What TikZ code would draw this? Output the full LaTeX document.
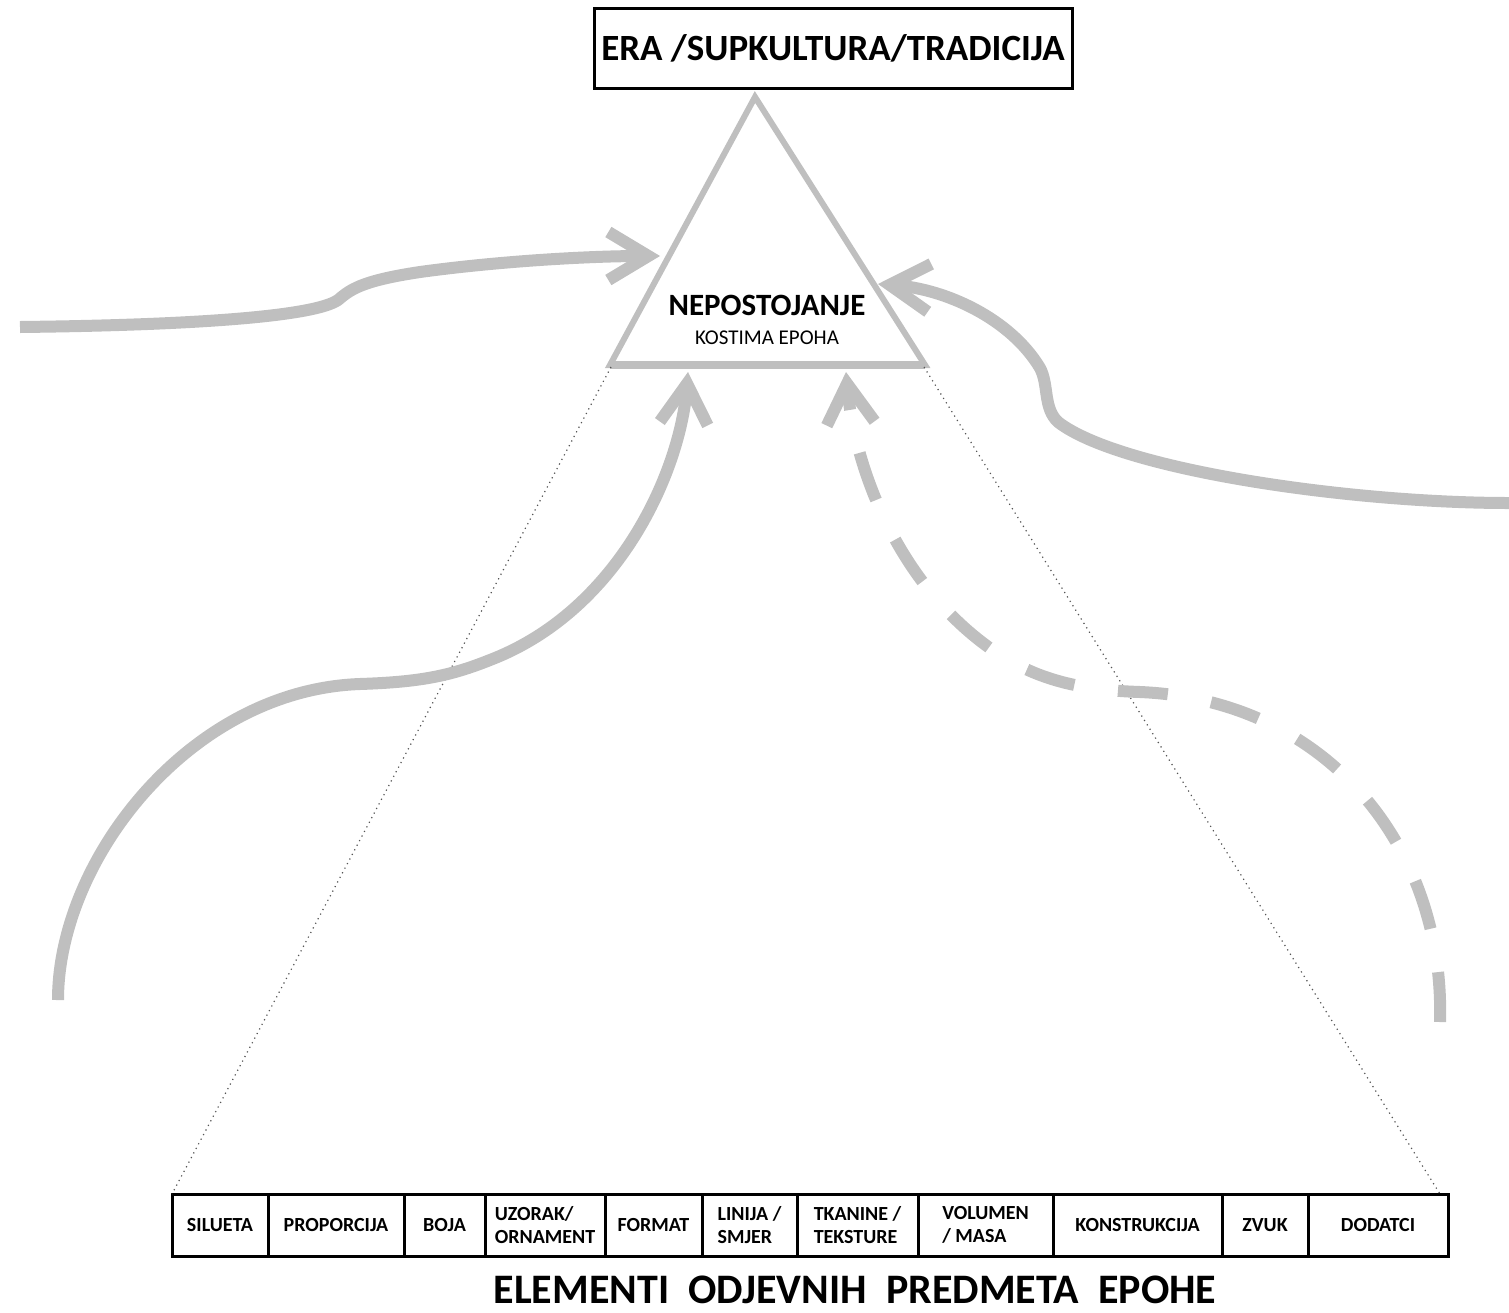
\documentclass[tikz,border=0pt]{standalone}
\usepackage{fontspec}
\setmainfont{Carlito}
\usetikzlibrary{arrows.meta}
\definecolor{flowgray}{RGB}{191,191,191}
\definecolor{guidegray}{RGB}{85,85,85}
\tikzset{
  flow/.style={draw=flowgray,line width=6pt,-{Straight Barb[length=20pt,width=24pt]}},
  flowdash/.style={flow,dash pattern=on 25pt off 22pt},
  guide/.style={draw=guidegray,line width=0.6pt,dotted},
  cell/.style={draw,line width=1.5pt,outer sep=0pt,minimum height=31pt,anchor=west,
    inner sep=1pt,align=left,font=\bfseries\fontsize{10}{11.5}\selectfont}
}
\begin{document}
\begin{tikzpicture}[x=0.5pt,y=-0.5pt]
\useasboundingbox (0,0) rectangle (1509,1312);
\node [draw,line width=1.5pt,minimum width=239pt,minimum height=40pt,name=era,
  font=\bfseries\fontsize{18.5}{20}\selectfont] at (833,48){ERA /SUPKULTURA/TRADICIJA};
\draw [draw=flowgray,line width=3pt] (755,97)--(925,365)--(610,365)--cycle;
\draw [draw=flowgray,line width=4pt] (610,365)--(925,365);
\coordinate (baseL) at (611,367);
\coordinate (baseR) at (924,367);
\node [name=nep,font=\bfseries\fontsize{15.5}{17}\selectfont] at (767,305){NEPOSTOJANJE};
\node [name=nepsub,font=\fontsize{10.5}{12}\selectfont] at (767,338){KOSTIMA EPOHA};
\node [cell,name=c1,minimum width=48pt] at (172,1225){SILUETA};
\node [cell,name=c2,minimum width=68pt] at (268,1225){PROPORCIJA};
\node [cell,name=c3,minimum width=40.5pt] at (404,1225){BOJA};
\node [cell,name=c4,minimum width=60pt] at (485,1225){UZORAK/\\ORNAMENT};
\node [cell,name=c5,minimum width=48.5pt] at (605,1225){FORMAT};
\node [cell,name=c6,minimum width=47.5pt] at (702,1225){LINIJA /\\SMJER};
\node [cell,name=c7,minimum width=60.5pt] at (797,1225){TKANINE /\\TEKSTURE};
\node [cell,name=c8,minimum width=67.5pt] at (918,1225){VOLUMEN\\/ MASA};
\node [cell,name=c9,minimum width=84.5pt] at (1053,1225){KONSTRUKCIJA};
\node [cell,name=c10,minimum width=43pt] at (1222,1225){ZVUK};
\node [cell,name=c11,minimum width=70pt] at (1308,1225){DODATCI};
\node [name=elem,font=\bfseries\fontsize{21}{23}\selectfont] at (855,1290){ELEMENTI\ \ ODJEVNIH\ \ PREDMETA\ \ EPOHE};
\draw [guide] (baseL)--(c1.north west);
\draw [guide] (baseR)--([xshift=-4pt]c11.north east);
\coordinate (inL) at (660,256);
\coordinate (inR) at (878,284);
\coordinate (inB1) at (688,372);
\coordinate (inB2) at (846,372);
\coordinate (srcL) at (20,327);
\coordinate (srcR) at (1509,503);
\coordinate (srcB1) at (58,1000);
\coordinate (srcB2) at (1440,1022);
\draw [flow] (srcL) .. controls (200,325) and (315,316) .. (338,300)
  .. controls (350,290) and (360,281) .. (420,272) .. controls (500,261) and (590,256) .. (inL);
\draw [flow] (srcR) .. controls (1350,503) and (1120,470) .. (1058,422)
  .. controls (1043,408) and (1049,385) .. (1040,368) .. controls (1010,318) and (945,289) .. (inR);
\draw [flow] (srcB1) .. controls (58,860) and (190,690) .. (360,684)
  .. controls (420,682) and (450,676) .. (490,660) .. controls (620,610) and (680,470) .. (inB1);
\draw [flowdash] (srcB2) .. controls (1445,850) and (1330,700) .. (1140,692)
  .. controls (1080,690) and (1040,680) .. (1000,655) .. controls (900,590) and (855,470) .. (inB2);
\end{tikzpicture}
\end{document}
